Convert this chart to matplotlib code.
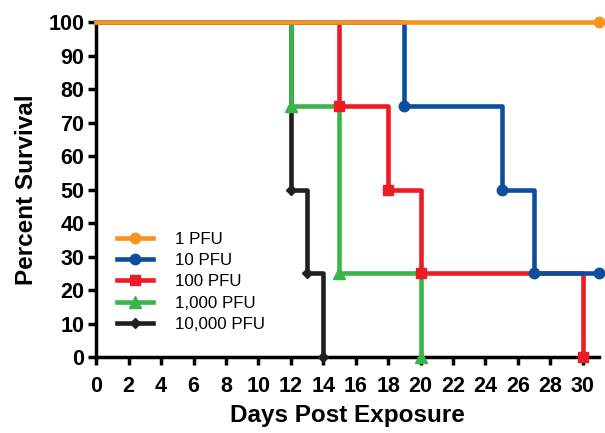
import matplotlib
matplotlib.use("Agg")
import matplotlib.pyplot as plt

plt.rcParams['font.family'] = ['Liberation Sans', 'DejaVu Sans']

# survival steps (day, percent) for each dose
days_1 = [0, 31]
surv_1 = [100, 100]
mark_1_x = [31]
mark_1_y = [100]

days_10 = [0, 19, 25, 27, 31]
surv_10 = [100, 75, 50, 25, 25]
mark_10_x = [19, 25, 27, 31]
mark_10_y = [75, 50, 25, 25]

days_100 = [0, 15, 18, 20, 30]
surv_100 = [100, 75, 50, 25, 0]
mark_100_x = [15, 18, 20, 30]
mark_100_y = [75, 50, 25, 0]

days_1000 = [0, 12, 15, 20]
surv_1000 = [100, 75, 25, 0]
mark_1000_x = [12, 15, 20]
mark_1000_y = [75, 25, 0]

days_10000 = [0, 12, 13, 14]
surv_10000 = [100, 50, 25, 0]
mark_10000_x = [12, 13, 14]
mark_10000_y = [50, 25, 0]

labels = ["1 PFU", "10 PFU", "100 PFU", "1,000 PFU", "10,000 PFU"]
colors = ["#F7941D", "#0B4F9C", "#ED1C24", "#39B54A", "#231F20"]
markers = ["o", "o", "s", "^", "D"]
msizes = [7.5, 7.5, 6.5, 8, 5.5]

series = [
    (days_1, surv_1, mark_1_x, mark_1_y),
    (days_10, surv_10, mark_10_x, mark_10_y),
    (days_100, surv_100, mark_100_x, mark_100_y),
    (days_1000, surv_1000, mark_1000_x, mark_1000_y),
    (days_10000, surv_10000, mark_10000_x, mark_10000_y),
]

fig = plt.figure(figsize=(6.05, 4.33), dpi=100)
ax = fig.add_axes([0.159, 0.1755, 0.831, 0.7735])

handles = []
for i, (dx, sy, mx, my) in enumerate(series):
    z = 10 - i
    ax.step(dx, sy, where="post", color=colors[i], lw=3.3, zorder=z, clip_on=False)
    ax.plot(mx, my, ls="none", marker=markers[i], ms=msizes[i], color=colors[i],
            zorder=z, clip_on=False)
    h, = ax.plot([], [], color=colors[i], lw=3.3, marker=markers[i], ms=msizes[i])
    handles.append(h)

ax.set_xlim(0, 31)
ax.set_ylim(0, 100)
ax.set_xticks(range(0, 31, 2))
ax.set_yticks(range(0, 101, 10))
for s in ["top", "right"]:
    ax.spines[s].set_visible(False)
for s in ["left", "bottom"]:
    ax.spines[s].set_linewidth(2.5)
ax.tick_params(direction="out", length=5.5, width=2.5, labelsize=15.5, pad=3)
ax.tick_params(axis="x", pad=8)
for t in ax.get_xticklabels() + ax.get_yticklabels():
    t.set_fontweight("bold")

ax.set_xlabel("Days Post Exposure", fontsize=17.5, fontweight="bold")
ax.set_ylabel("Percent Survival", fontsize=17.5, fontweight="bold")
ax.xaxis.set_label_coords(0.5, -0.14)
ax.yaxis.set_label_coords(-0.116, 0.5)

ax.legend(handles, labels, loc="upper left", bbox_to_anchor=(0.025, 0.40),
          frameon=False, fontsize=12.2, handlelength=2.1, labelspacing=0.38,
          handletextpad=1.3, borderpad=0)

fig.savefig("out.png", dpi=100)
